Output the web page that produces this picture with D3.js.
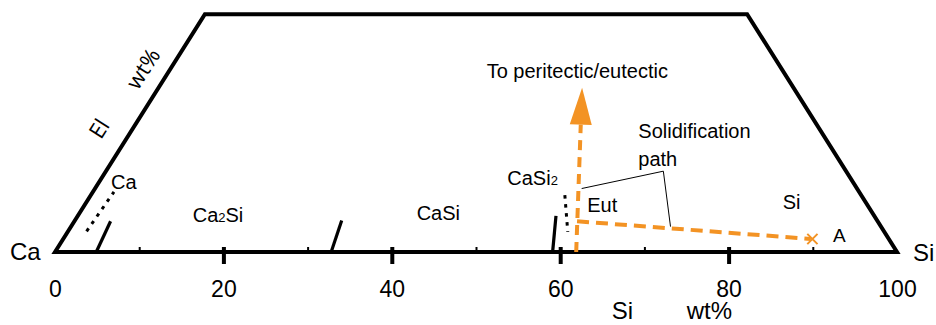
<!DOCTYPE html>
<html>
<head>
<meta charset="utf-8">
<script src="https://cdn.jsdelivr.net/npm/d3@7"></script>
<style>
body { margin: 0; background: #fff; }
svg { display: block; font-family: "Liberation Sans", Arial, sans-serif; }
</style>
</head>
<body>
<svg id="chart" width="936" height="325"></svg>
<script>
// Data in wt% : [Si, El]. Si runs along the base, El towards the (cut off) apex.
const siTicks = [0, 20, 40, 60, 80, 100];
const siMinorTicks = [10, 30, 50, 70, 90];
const elTop = 35.6; // diagram is truncated at this El content

const solidBoundaries = [
    [[4.9, 0], [4.3, 4.6]],
    [[32.8, 0], [31.7, 4.7]],
    [[59.1, 0], [56.8, 5.4]]
];
const dottedBoundaries = [
    [[2.2, 3.1], [2.5, 9.0]],
    [[56.3, 8.5], [59.4, 3.0]]
];
const towardPeritectic = [[61.9, 0], [50.3, 24.6]];
const solidificationPath = [[59.7, 4.6], [88.8, 1.95]];
const pointA = [88.8, 1.95];
const calloutLine = [[57.8, 9.5], [66.2, 12.1], [71.2, 3.8]];

// phase names, odd parts are subscripts
const phaseNames = [['Ca'], ['Ca', '2', 'Si'], ['CaSi'], ['CaSi', '2'], ['Eut'], ['Si']];
const phaseNamePos = [[1.96, 9.39], [14.13, 4.45], [40.56, 4.79], [48.7, 10.03], [60.2, 6.03], [83.23, 6.39]];

const orange = '#f39324';

const svg = d3.select('#chart');

// Scales
const x = d3.scaleLinear().domain([0, 100]).range([55, 897]);
const y = d3.scaleLinear().domain([0, 100]).range([252, 252 - 668]);

// ternary -> screen
function proj(p) {
    return [x(p[0] + p[1] / 2), y(p[1])];
}
const line = d3.line().x(d => proj(d)[0]).y(d => proj(d)[1]);

// Frame (truncated triangle)
const frame = [[0, 0], [0, elTop], [100 - elTop, elTop], [100, 0], [0, 0]];
svg.append('path')
    .attr('d', line(frame) + 'Z')
    .attr('fill', 'none')
    .attr('stroke', '#000')
    .attr('stroke-width', 4)
    .attr('stroke-linejoin', 'miter');

// Minor ticks
const minorAxis = svg.append('g')
    .attr('transform', `translate(0,${y(0)})`)
    .call(d3.axisBottom(x).tickValues(siMinorTicks).tickSize(-5).tickFormat(''));
minorAxis.select('.domain').remove();
minorAxis.selectAll('.tick line').attr('stroke', '#000').attr('stroke-width', 2);

// Major ticks and labels
const majorAxis = svg.append('g')
    .attr('transform', `translate(0,${y(0)})`)
    .call(d3.axisBottom(x).tickValues(siTicks).tickSize(12).tickPadding(17));
majorAxis.select('.domain').remove();
majorAxis.selectAll('.tick line')
    .attr('y1', -5)
    .attr('stroke', '#000')
    .attr('stroke-width', 4)
    .attr('display', d => (d === 0 || d === 100) ? 'none' : null);
majorAxis.selectAll('.tick text')
    .attr('fill', '#000')
    .attr('font-size', 23)
    .attr('font-family', '"Liberation Sans", Arial, sans-serif');

// Corner labels
svg.append('text').attr('x', x(0) - 45).attr('y', y(0) + 8)
    .attr('font-size', 24).text('Ca');
svg.append('text').attr('x', x(100) + 16).attr('y', y(0) + 9)
    .attr('font-size', 24).text('Si');

// Axis titles
svg.append('text').attr('x', 611.7).attr('y', 319).attr('font-size', 24).text('Si');
svg.append('text').attr('x', 686.7).attr('y', 319).attr('font-size', 24).text('wt%');

const leftTop = proj([0, elTop]);
const leftBottom = proj([0, 0]);
const edgeAngle = Math.atan2(leftTop[1] - leftBottom[1], leftTop[0] - leftBottom[0]) * 180 / Math.PI;
[['El', [-4.17, 18.56]], ['wt%', [-3.44, 27.54]]].forEach(([t, p]) => {
    const [px, py] = proj(p);
    svg.append('text')
        .attr('transform', `translate(${px},${py}) rotate(${edgeAngle})`)
        .attr('text-anchor', 'middle')
        .attr('dominant-baseline', 'central')
        .attr('font-family', '"Open Sans", sans-serif')
        .attr('font-size', 22)
        .text(t);
});

// Phase boundaries
svg.selectAll('.solid-b')
    .data(solidBoundaries)
    .enter()
    .append('path')
    .attr('class', 'solid-b')
    .attr('d', line)
    .attr('fill', 'none')
    .attr('stroke', '#000')
    .attr('stroke-width', 3.2);

svg.selectAll('.dotted-b')
    .data(dottedBoundaries)
    .enter()
    .append('path')
    .attr('class', 'dotted-b')
    .attr('d', line)
    .attr('fill', 'none')
    .attr('stroke', '#000')
    .attr('stroke-width', 3)
    .attr('stroke-dasharray', '3.5,5.5');

// Phase labels
phaseNames.forEach((parts, i) => {
    const [px, py] = proj(phaseNamePos[i]);
    const t = svg.append('text').attr('x', px).attr('y', py).attr('font-size', 20);
    parts.forEach((s, j) => {
        t.append('tspan').attr('font-size', j % 2 ? 13 : 20).text(s);
    });
});

// Arrow toward peritectic / eutectic
const a0 = proj(towardPeritectic[0]);
const a1 = proj(towardPeritectic[1]);
const len = Math.hypot(a1[0] - a0[0], a1[1] - a0[1]);
const ux = (a1[0] - a0[0]) / len, uy = (a1[1] - a0[1]) / len;
const headLen = 37, headHalf = 11;
const base = [a1[0] - ux * headLen, a1[1] - uy * headLen];

svg.append('line')
    .attr('x1', a0[0]).attr('y1', a0[1])
    .attr('x2', base[0]).attr('y2', base[1])
    .attr('stroke', orange)
    .attr('stroke-width', 4)
    .attr('stroke-dasharray', '10,7');

svg.append('path')
    .attr('d', `M${a1[0]},${a1[1]}L${base[0] - uy * headHalf},${base[1] + ux * headHalf}L${base[0] + uy * headHalf},${base[1] - ux * headHalf}Z`)
    .attr('fill', orange);

// Solidification path
svg.append('path')
    .attr('d', line(solidificationPath))
    .attr('fill', 'none')
    .attr('stroke', orange)
    .attr('stroke-width', 4)
    .attr('stroke-dasharray', '12,7');

// Point A
const pa = proj(pointA);
svg.append('path')
    .attr('transform', `translate(${pa[0] + 1.5},${pa[1]})`)
    .attr('d', d3.symbol(d3.symbolX, 70)())
    .attr('fill', 'none')
    .attr('stroke', orange)
    .attr('stroke-width', 2);
const aPos = proj([91.65, 1.5]);
svg.append('text').attr('x', aPos[0]).attr('y', aPos[1]).attr('font-size', 19).text('A');

// Callout
svg.append('path')
    .attr('d', line(calloutLine))
    .attr('fill', 'none')
    .attr('stroke', '#000')
    .attr('stroke-width', 1);

const sPos = proj([60.77, 17.02]);
svg.append('text').attr('x', sPos[0]).attr('y', sPos[1]).attr('font-size', 20).text('Solidification');
const pPos = proj([62.84, 12.87]);
svg.append('text').attr('x', pPos[0]).attr('y', pPos[1]).attr('font-size', 20).text('path');

const tPos = proj([38.27, 26.0]);
svg.append('text').attr('x', tPos[0]).attr('y', tPos[1]).attr('font-size', 20).text('To peritectic/eutectic');
</script>
</body>
</html>
